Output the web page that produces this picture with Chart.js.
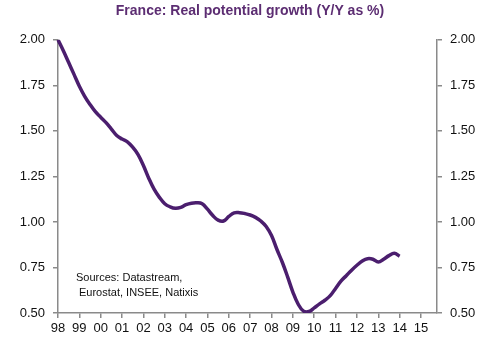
<!DOCTYPE html>
<html>
<head>
<meta charset="utf-8">
<script src="https://cdn.jsdelivr.net/npm/chart.js@4.4.0/dist/chart.umd.min.js"></script>
<style>
  html, body { margin: 0; padding: 0; background: #fff; }
  #wrap { width: 500px; height: 350px; position: relative; }
</style>
</head>
<body>
<div id="wrap"><canvas id="grafica"></canvas></div>
<script>
// Etiquetas de años (eje X) y valores trimestrales
const years = ['98','99','00','01','02','03','04','05','06','07','08','09','10','11','12','13','14','15'];

const potentialGrowth = [
  2.00, 1.94, 1.875, 1.81,    // 98
  1.745, 1.69, 1.645, 1.605,  // 99
  1.575, 1.545, 1.51, 1.475,  // 00
  1.455, 1.44, 1.41, 1.37,    // 01
  1.31, 1.24, 1.18, 1.135,    // 02
  1.10, 1.083, 1.075, 1.08,   // 03
  1.095, 1.103, 1.105, 1.10,  // 04
  1.07, 1.035, 1.01, 1.005,   // 05
  1.03, 1.05, 1.051, 1.046,   // 06
  1.038, 1.025, 1.005, 0.975, // 07
  0.925, 0.85, 0.78, 0.70,    // 08
  0.615, 0.548, 0.51, 0.508,  // 09
  0.528, 0.55, 0.57, 0.595,   // 10
  0.635, 0.675, 0.705, 0.735, // 11
  0.762, 0.785, 0.798, 0.795, // 12
  0.78, 0.795, 0.815, 0.828,  // 13
  0.812                       // 14
];

const yTicks = [0.50, 0.75, 1.00, 1.25, 1.50, 1.75, 2.00];

// Categorias trimestrales: solo el primer trimestre lleva etiqueta
const quarters = [];
years.forEach(y => { for (let q = 1; q <= 4; q++) quarters.push(y + 'Q' + q); });

const AXIS_GRAY = '#8a8a8a';
const FONT_TICKS = { family: 'Liberation Sans, Arial, sans-serif', size: 13 };

const fuentesPlugin = {
  id: 'fuentes',
  afterDraw(chart) {
    const ctx = chart.ctx;
    ctx.save();
    ctx.fillStyle = '#111';
    ctx.font = '11px Liberation Sans, Arial, sans-serif';
    ctx.textBaseline = 'middle';
    ctx.fillText('Sources: Datastream,', 76, 278);
    ctx.fillText('Eurostat, INSEE, Natixis', 79, 293);
    ctx.restore();
  }
};

function yAxis(position, width) {
  return {
    position: position,
    min: 0.5,
    max: 2.0,
    afterBuildTicks: scale => { scale.ticks = yTicks.map(v => ({ value: v })); },
    afterFit: scale => { scale.width = width; },
    ticks: {
      color: '#111',
      font: FONT_TICKS,
      padding: 8,
      callback: v => Number(v).toFixed(2)
    },
    grid: { drawOnChartArea: false, drawTicks: true, tickLength: 5, color: AXIS_GRAY, lineWidth: 1.5 },
    border: { display: true, color: AXIS_GRAY, width: 1.5 }
  };
}

const ctx = document.getElementById('grafica').getContext('2d');
new Chart(ctx, {
  type: 'line',
  data: {
    labels: quarters,
    datasets: [{
      label: 'Real potential growth',
      data: potentialGrowth,
      borderColor: '#4b1e6e',
      borderWidth: 3.5,
      pointRadius: 0,
      tension: 0.4,
      fill: false,
      yAxisID: 'y'
    }, {
      label: 'right',
      data: [],
      yAxisID: 'y2'
    }]
  },
  options: {
    responsive: true,
    maintainAspectRatio: false,
    animation: false,
    layout: { padding: { top: 3, left: 0, right: 0, bottom: 0 } },
    scales: {
      x: {
        offset: false,
        afterFit: scale => { scale.height = 37; },
        ticks: {
          color: '#111',
          font: FONT_TICKS,
          autoSkip: false,
          maxRotation: 0,
          padding: 3,
          callback: function (value, index) {
            const lab = this.getLabelForValue(value);
            return lab.endsWith('Q1') ? lab.slice(0, 2) : null;
          }
        },
        grid: { drawOnChartArea: false, drawTicks: true, tickLength: 5, color: AXIS_GRAY, lineWidth: 1.5 },
        border: { display: true, color: AXIS_GRAY, width: 1.5 }
      },
      y: yAxis('left', 58),
      y2: yAxis('right', 63)
    },
    plugins: {
      legend: { display: false },
      tooltip: { enabled: false },
      title: {
        display: true,
        text: 'France: Real potential growth (Y/Y as %)',
        color: '#5c2d72',
        font: { family: 'Liberation Sans, Arial, sans-serif', size: 14, weight: 'bold' },
        padding: { top: 0, bottom: 20 }
      }
    }
  },
  plugins: [fuentesPlugin]
});
</script>
</body>
</html>
